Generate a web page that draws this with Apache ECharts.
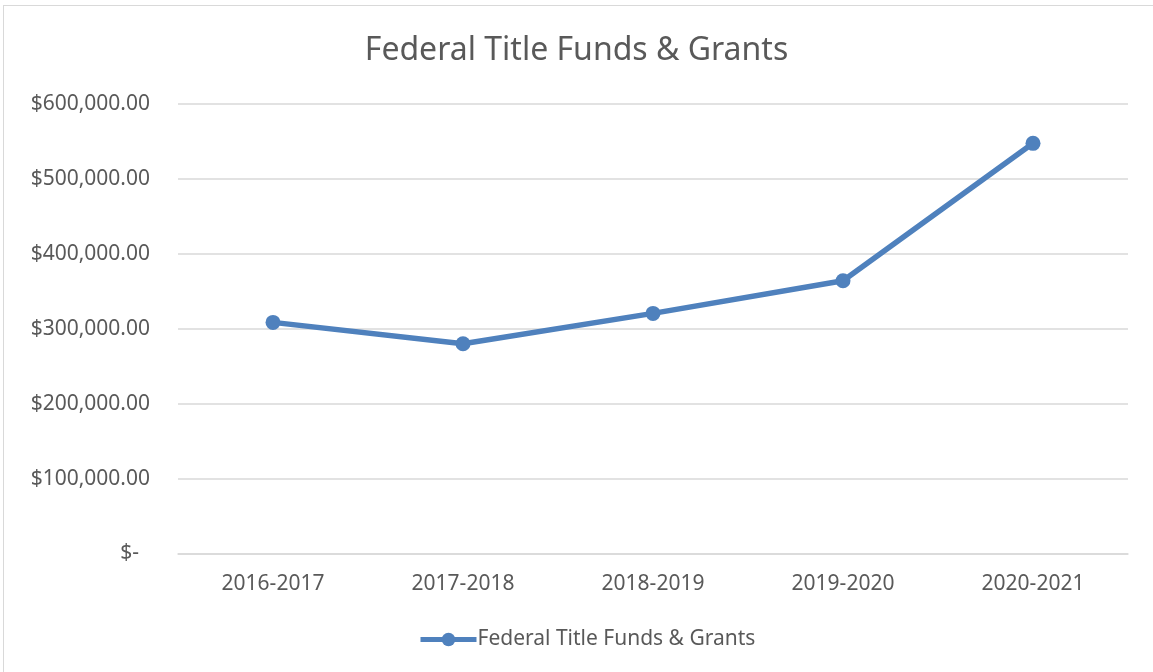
<!DOCTYPE html>
<html>
<head>
<meta charset="utf-8">
<script src="https://cdn.jsdelivr.net/npm/echarts@6/dist/echarts.min.js"></script>
<style>
html,body{margin:0;padding:0;background:#fff;}
#frame{position:absolute;left:3px;top:5px;width:1160px;height:680px;border:1.5px solid #d9d9d9;box-sizing:border-box;}
#chart{position:absolute;left:0;top:0;width:1153px;height:672px;}
</style>
</head>
<body>
<div id="frame"></div>
<div id="chart"></div>
<script>
const categories = ['2016-2017','2017-2018','2018-2019','2019-2020','2020-2021'];
const seriesName = 'Federal Title Funds & Grants';
const values = [308500, 280000, 320500, 364000, 547500];
const yTicks = [0, 100000, 200000, 300000, 400000, 500000, 600000];

const chart = echarts.init(document.getElementById('chart'), null, {renderer:'canvas'});
const font = 'Noto Sans';
function fmt(v){
  if (v === 0) return '$-  ';
  return '$' + v.toLocaleString('en-US',{minimumFractionDigits:2, maximumFractionDigits:2});
}
chart.setOption({
  backgroundColor: 'transparent',
  animation: false,
  title: {
    text: seriesName,
    left: 'center',
    top: 30,
    textStyle: {fontFamily: font, fontSize: 32, fontWeight: 'normal', color: '#595959'}
  },
  grid: {left: 178, right: 25, top: 104, bottom: 118.5, containLabel: false},
  legend: {
    bottom: 17,
    left: 413,
    itemWidth: 56,
    itemHeight: 17,
    itemGap: 4,
    lineStyle: {width: 5},
    textStyle: {fontFamily: font, fontSize: 21, color: '#595959', padding: [0,0,0,-4]},
    data: [seriesName]
  },
  xAxis: {
    type: 'category',
    data: categories,
    boundaryGap: true,
    axisLine: {show: true, lineStyle: {color: '#d9d9d9', width: 1.5}},
    axisTick: {show: false},
    axisLabel: {fontFamily: font, fontSize: 21, color: '#595959', margin: 20}
  },
  yAxis: {
    type: 'value',
    min: 0, max: 600000, interval: 100000,
    axisLine: {show: false},
    axisTick: {show: false},
    splitLine: {lineStyle: {color: '#d9d9d9', width: 1.5}},
    axisLabel: {fontFamily: font, fontSize: 21, color: '#595959', margin: 28, formatter: fmt}
  },
  series: [{
    name: seriesName,
    type: 'line',
    data: values,
    symbol: 'circle',
    symbolSize: 15,
    lineStyle: {color: '#4f81bd', width: 5.5},
    itemStyle: {color: '#4f81bd'}
  }]
});
</script>
</body>
</html>
